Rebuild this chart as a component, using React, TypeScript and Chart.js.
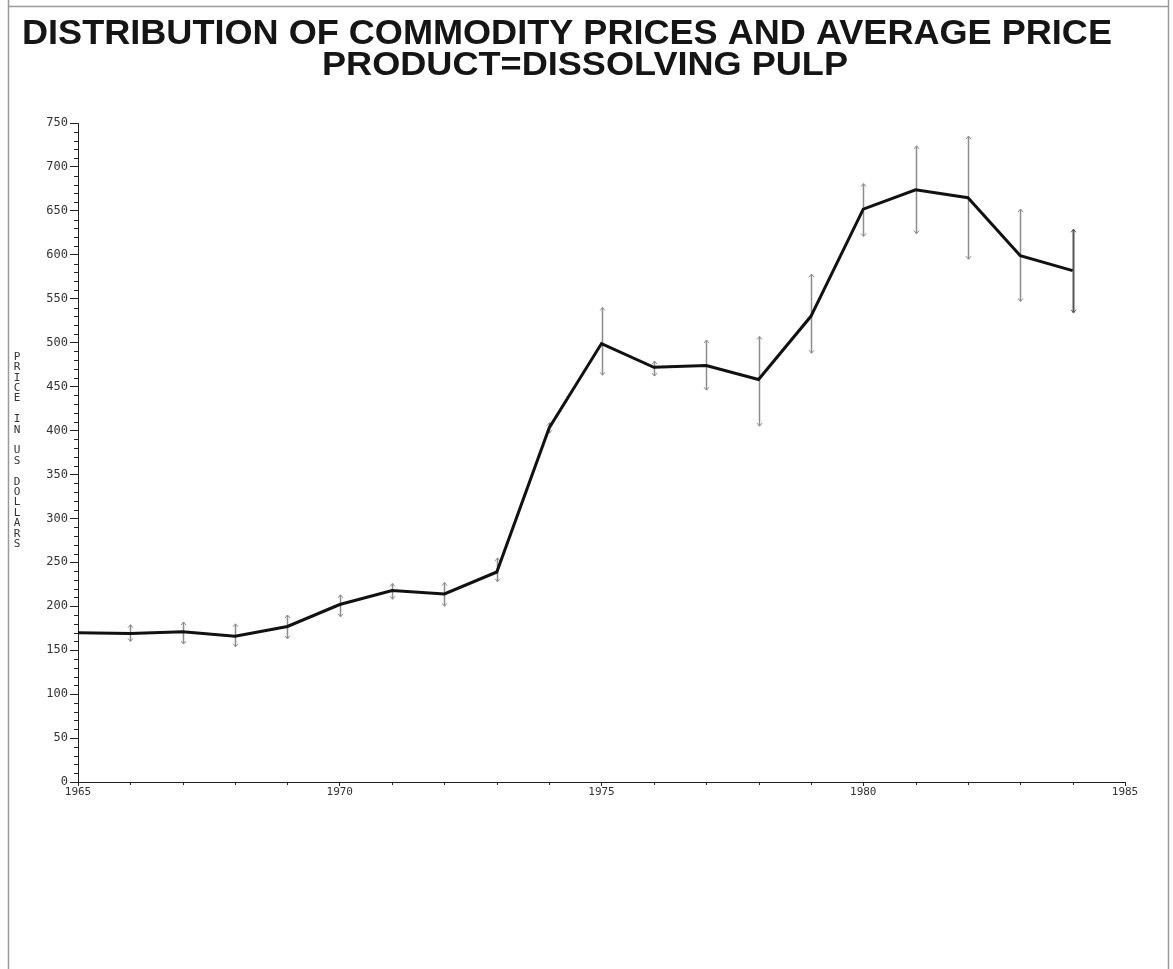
import React, { useEffect, useRef } from "react";
import { Chart, registerables } from "chart.js";

Chart.register(...registerables);

// ---- data ----
const years = [1965, 1966, 1967, 1968, 1969, 1970, 1971, 1972, 1973, 1974, 1975, 1976, 1977, 1978, 1979, 1980, 1981, 1982, 1983, 1984];
const averagePrice = [170, 169, 171, 166, 177, 202, 218, 214, 239, 403, 499, 472, 474, 458, 530, 652, 674, 665, 599, 582];
const lowPrice = [null, 160, 157, 154, 163, 188, 208, 200, 228, 397, 463, 462, 446, 405, 488, 621, 624, 595, 547, 534];
const highPrice = [null, 179, 182, 180, 190, 213, 226, 227, 255, 409, 540, 479, 503, 507, 578, 681, 724, 735, 652, 629];
const xTickValues = [1965, 1970, 1975, 1980, 1985];
const titleText = "DISTRIBUTION OF COMMODITY PRICES AND AVERAGE PRICE";
const subtitleText = "PRODUCT=DISSOLVING PULP";
const yAxisWords = ["PRICE", "IN", "US", "DOLLARS"];

const W = 1173;
const H = 969;
const MONO = "'DejaVu Sans Mono', 'Liberation Mono', monospace";
const TITLE_FONT = "'Liberation Sans', Arial, sans-serif";

function drawStretched(ctx: CanvasRenderingContext2D, text: string, font: string, left: number, right: number, baseline: number) {
  ctx.save();
  ctx.font = font;
  ctx.textAlign = "left";
  ctx.textBaseline = "alphabetic";
  const m = ctx.measureText(text).width;
  const target = right - left;
  ctx.translate(left, baseline);
  ctx.scale(target / m, 1);
  ctx.fillText(text, 0, 0);
  ctx.restore();
}

const framePlugin = {
  id: "frame",
  beforeDraw(chart: any) {
    const ctx = chart.ctx as CanvasRenderingContext2D;
    ctx.save();
    ctx.fillStyle = "#ffffff";
    ctx.fillRect(0, 0, W, H);
    ctx.strokeStyle = "#9a9a9a";
    ctx.lineWidth = 1.5;
    ctx.beginPath();
    ctx.moveTo(8.5, 0);
    ctx.lineTo(8.5, H);
    ctx.moveTo(8, 6.5);
    ctx.lineTo(1168, 6.5);
    ctx.moveTo(1168.5, 0);
    ctx.lineTo(1168.5, H);
    ctx.stroke();
    ctx.restore();
  },
  afterDraw(chart: any) {
    const ctx = chart.ctx as CanvasRenderingContext2D;
    ctx.save();
    ctx.fillStyle = "#151515";
    drawStretched(ctx, titleText, `bold 35px ${TITLE_FONT}`, 22, 1112, 44);
    drawStretched(ctx, subtitleText, `bold 34px ${TITLE_FONT}`, 322, 848, 75);

    // stacked y-axis title letters
    ctx.font = `11px ${MONO}`;
    ctx.textAlign = "center";
    ctx.textBaseline = "middle";
    ctx.fillStyle = "#333333";
    const chars: string[] = [];
    yAxisWords.forEach((w, i) => {
      if (i > 0) chars.push(" ");
      for (const c of w) chars.push(c);
    });
    const y0 = 357;
    const step = 10.4;
    chars.forEach((c, i) => {
      if (c !== " ") ctx.fillText(c, 17, y0 + i * step);
    });

    // minor ticks
    const x = chart.scales.x;
    const y = chart.scales.y;
    ctx.strokeStyle = "#222222";
    ctx.lineWidth = 1;
    ctx.beginPath();
    for (let v = 0; v <= 750; v += 10) {
      if (v % 50 === 0) continue;
      const py = Math.round(y.getPixelForValue(v)) + 0.5;
      ctx.moveTo(x.left - 4, py);
      ctx.lineTo(x.left, py);
    }
    for (let yr = 1965; yr <= 1985; yr++) {
      if (yr % 5 === 0) continue;
      const px = Math.round(x.getPixelForValue(yr)) + 0.5;
      ctx.moveTo(px, y.bottom);
      ctx.lineTo(px, y.bottom + 3);
    }
    ctx.stroke();
    ctx.restore();
  },
};

const errorBarPlugin = {
  id: "errorBars",
  beforeDatasetsDraw(chart: any) {
    const ctx = chart.ctx as CanvasRenderingContext2D;
    const x = chart.scales.x;
    const y = chart.scales.y;
    ctx.save();
    years.forEach((yr, i) => {
      const lo = lowPrice[i];
      const hi = highPrice[i];
      if (lo == null || hi == null) return;
      const px = Math.round(x.getPixelForValue(yr)) + 0.5;
      const pLo = y.getPixelForValue(lo);
      const pHi = y.getPixelForValue(hi);
      ctx.strokeStyle = i === years.length - 1 ? "#555555" : "#8c8c8c";
      ctx.lineWidth = i === years.length - 1 ? 2 : 1.5;
      ctx.beginPath();
      ctx.moveTo(px, pLo);
      ctx.lineTo(px, pHi);
      ctx.stroke();
      ctx.lineWidth = 1;
      ctx.beginPath();
      ctx.moveTo(px - 2.5, pHi + 3);
      ctx.lineTo(px, pHi);
      ctx.lineTo(px + 2.5, pHi + 3);
      ctx.moveTo(px - 2.5, pLo - 3);
      ctx.lineTo(px, pLo);
      ctx.lineTo(px + 2.5, pLo - 3);
      ctx.stroke();
    });
    ctx.restore();
  },
};

export default function App() {
  const canvasRef = useRef<HTMLCanvasElement | null>(null);

  useEffect(() => {
    document.body.style.margin = "0";
    const canvas = canvasRef.current;
    if (!canvas) return;
    const chart = new Chart(canvas, {
      type: "line",
      data: {
        datasets: [
          {
            label: "Average price",
            data: years.map((yr, i) => ({ x: yr, y: averagePrice[i] })),
            borderColor: "#111111",
            borderWidth: 3,
            pointRadius: 0,
            tension: 0,
            fill: false,
          },
        ],
      },
      options: {
        responsive: false,
        animation: false,
        devicePixelRatio: 1,
        layout: { padding: { left: 0, right: 48, top: 123, bottom: 157 } },
        plugins: {
          legend: { display: false },
          title: { display: false },
          tooltip: { enabled: false },
        },
        scales: {
          x: {
            type: "linear",
            min: 1965,
            max: 1985,
            afterBuildTicks: (scale: any) => {
              scale.ticks = xTickValues.map((v) => ({ value: v }));
            },
            afterFit: (scale: any) => {
              scale.height = 30;
            },
            border: { display: true, color: "#222222", width: 1 },
            grid: { drawOnChartArea: false, drawTicks: true, tickLength: 4, color: "#222222" },
            ticks: {
              callback: (v: any) => String(v),
              font: { family: MONO, size: 11 },
              color: "#333333",
              maxRotation: 0,
              padding: 0,
            },
          },
          y: {
            type: "linear",
            min: 0,
            max: 750,
            afterFit: (scale: any) => {
              scale.width = 78;
            },
            border: { display: true, color: "#222222", width: 1 },
            grid: { drawOnChartArea: false, drawTicks: true, tickLength: 8, color: "#222222" },
            ticks: {
              stepSize: 50,
              callback: (v: any) => String(v),
              font: { family: MONO, size: 12 },
              color: "#333333",
              padding: 2,
            },
          },
        },
      },
      plugins: [framePlugin, errorBarPlugin],
    });
    return () => chart.destroy();
  }, []);

  return (
    <div style={{ position: "fixed", left: 0, top: 0, width: W, height: H, background: "#fff" }}>
      <canvas ref={canvasRef} width={W} height={H} style={{ display: "block", width: W, height: H }} />
    </div>
  );
}
